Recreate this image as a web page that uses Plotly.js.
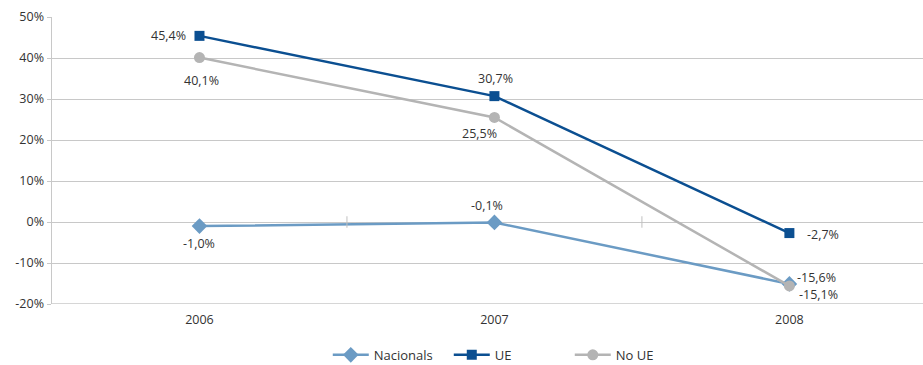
<!DOCTYPE html>
<html><head><meta charset="utf-8">
<script src="https://cdn.plot.ly/plotly-3.0.1.min.js"></script>
<style>html,body{margin:0;padding:0;background:#fff}#c{width:923px;height:365px}</style>
</head><body><div id="c"></div>
<script>
var years = ['2006', '2007', '2008'];
var nacionals = [-1.0, -0.1, -15.1];
var ue = [45.4, 30.7, -2.7];
var noUe = [40.1, 25.5, -15.6];
var yTicks = [-20, -10, 0, 10, 20, 30, 40, 50];

function fmt(v){ return v.toFixed(1).replace('.', ',') + '%'; }
var font = {family: 'Open Sans, Lato, sans-serif', size: 12.5, color: '#333'};

var xIdx = years.map(function(_, i){ return i; });
var traces = [
  {name: 'Nacionals', x: xIdx, y: nacionals, mode: 'lines+markers',
   line: {color: '#6b9bc4', width: 2.5}, marker: {symbol: 'diamond', size: 12, color: '#6b9bc4'}, cliponaxis: false},
  {name: 'UE', x: xIdx, y: ue, mode: 'lines+markers',
   line: {color: '#0b4f91', width: 2.5}, marker: {symbol: 'square', size: 10, color: '#0b4f91'}, cliponaxis: false},
  {name: 'No UE', x: xIdx, y: noUe, mode: 'lines+markers',
   line: {color: '#b4b4b4', width: 2.5}, marker: {symbol: 'circle', size: 11, color: '#b4b4b4'}, cliponaxis: false}
];

// label offsets (pixels) per series/point
var labelStyle = {
  nac: [{xa: 'center', dx: 0, dy: -17}, {xa: 'center', dx: -7, dy: 17}, {xa: 'left', dx: 8, dy: -11}],
  ue:  [{xa: 'right', dx: -11, dy: 0}, {xa: 'center', dx: 1, dy: 18}, {xa: 'left', dx: 16, dy: -1}],
  no:  [{xa: 'center', dx: 2, dy: -23}, {xa: 'center', dx: -15, dy: -16}, {xa: 'left', dx: 6, dy: 8}]
};
function labels(vals, st){
  return vals.map(function(v, i){
    return {x: xIdx[i], y: v, xref: 'x', yref: 'y', text: fmt(v), showarrow: false,
            xanchor: st[i].xa, yanchor: 'middle', xshift: st[i].dx, yshift: st[i].dy, font: font};
  });
}
var annotations = labels(nacionals, labelStyle.nac).concat(labels(ue, labelStyle.ue), labels(noUe, labelStyle.no));

var layout = {
  width: 923, height: 365,
  margin: {l: 52, r: 0, t: 17, b: 61, autoexpand: false},
  paper_bgcolor: '#fff', plot_bgcolor: '#fff',
  font: font,
  showlegend: true,
  legend: {orientation: 'h', x: 0.525, xanchor: 'center', y: -0.125, yanchor: 'top', itemwidth: 36,
           entrywidth: 70, entrywidthmode: 'pixels',
           font: {family: 'Open Sans, Lato, sans-serif', size: 13, color: '#333'}},
  xaxis: {range: [-0.5, 2.453], tickvals: xIdx, ticktext: years, showgrid: false,
          zeroline: false, showline: false, ticks: '', fixedrange: true, ticklabelstandoff: 6},
  yaxis: {range: [-20, 50], tickvals: yTicks, ticktext: yTicks.map(function(v){return v + '%';}),
          showgrid: true, gridcolor: '#c8c8c8', gridwidth: 1, zeroline: false,
          showline: true, linecolor: '#c8c8c8', linewidth: 1.5, ticks: 'outside', ticklen: 4,
          tickcolor: '#c8c8c8', fixedrange: true},
  annotations: annotations,
  shapes: [0.5, 1.5].map(function(b){
    return {type: 'line', xref: 'x', yref: 'y', x0: b, x1: b, y0: -1.4, y1: 1.4,
            line: {color: '#c0c0c0', width: 1}};
  }).concat([{type: 'line', xref: 'paper', yref: 'y', x0: 0, x1: 1, y0: -20, y1: -20,
              line: {color: '#c8c8c8', width: 1.5}}])
};

Plotly.newPlot('c', traces, layout, {staticPlot: true, displayModeBar: false});
</script></body></html>
